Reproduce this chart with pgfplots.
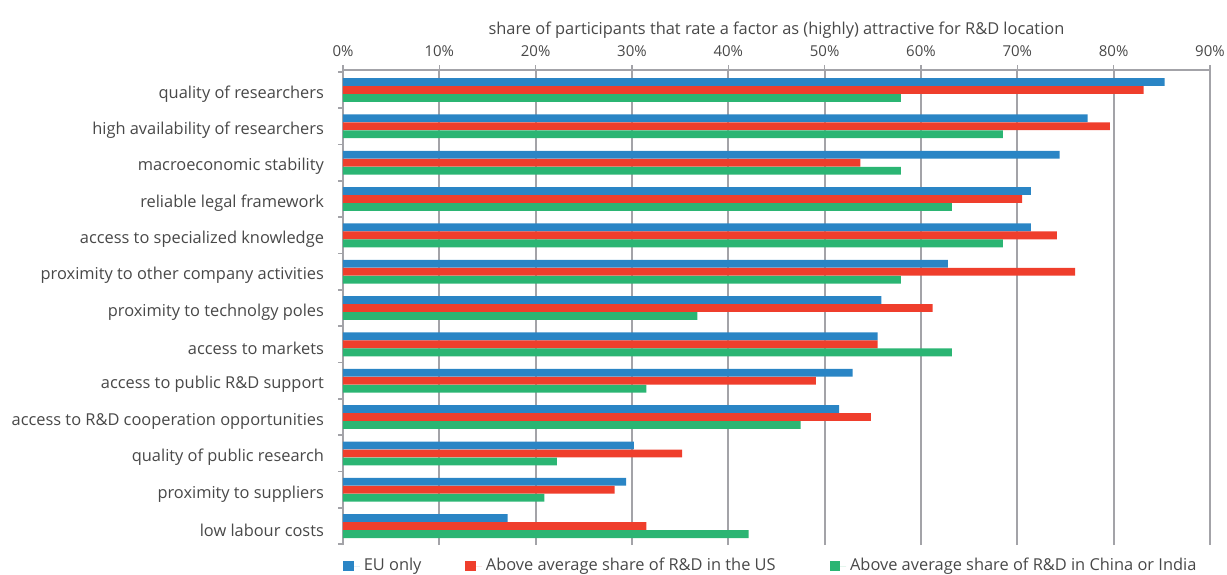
\documentclass[border=0pt]{standalone}
\usepackage{pgfplots}
\pgfplotsset{compat=1.18}
\usepackage{fontspec}
\setmainfont{Open Sans}
\definecolor{cblue}{HTML}{2A85C5}
\definecolor{cred}{HTML}{EF3E2C}
\definecolor{cgreen}{HTML}{2BB573}
\definecolor{cgrid}{HTML}{A3A3A8}
\definecolor{ctext}{HTML}{484848}
\begin{document}
\begin{tikzpicture}[font=\fontsize{8.2}{9.8}\selectfont]
\path[use as bounding box] (-171.5pt,-14.5pt) rectangle (442pt,272.5pt);
\begin{axis}[
  at={(0,0)}, anchor=south west,
  scale only axis, width=433.5pt, height=237.5pt,
  xbar, bar width=3.9pt,
  xmin=0, xmax=90, ymin=-0.52, ymax=12.55,
  axis x line*=top, axis y line*=left,
  axis line style={cgrid, line width=0.9pt},
  every axis plot/.append style={draw=none},
  xtick={0,10,...,90},
  xticklabel={\pgfmathprintnumber{\tick}\%},
  /pgf/number format/assume math mode=true,
  xticklabel style={text=ctext, font=\fontsize{7.5}{9}\selectfont},
  x tick label style={yshift=0.5pt},
  xmajorgrids, grid style={cgrid, line width=0.9pt},
  tick align=outside, major tick length=2.5pt,
  tick style={cgrid, line width=0.8pt},
  ytick={-0.5,0.5,...,12.5}, yticklabels={},
  extra y ticks={0,...,12},
  extra y tick labels={low labour costs, proximity to suppliers, quality of public research, access to R\&D cooperation opportunities, access to public R\&D support, access to markets, proximity to technolgy poles, proximity to other company activities, access to specialized knowledge, reliable legal framework, macroeconomic stability, high availability of researchers, quality of researchers},
  extra y tick style={major tick length=0pt, grid=none, yticklabel style={text=ctext, xshift=-6pt, yshift=-2pt, font=\fontsize{8.2}{9.8}\selectfont}},
  xlabel={share of participants that rate a factor as (highly) attractive for R\&D location},
  xlabel style={text=ctext, yshift=-3pt, font=\fontsize{8.2}{9.8}\selectfont},
  legend columns=3,
  legend cell align=left,
  legend style={draw=none, fill=none, at={(axis description cs:0,0)}, anchor=west, yshift=-10.5pt, inner xsep=0pt, inner ysep=0pt, text=ctext, font=\fontsize{8.2}{9.8}\selectfont, /tikz/column 2/.style={column sep=20pt}, /tikz/column 4/.style={column sep=25pt}},
]
\addplot[fill=cblue, bar shift=4pt, legend image code/.code={\fill[cblue] (0pt,-2.6pt) rectangle (5.2pt,2.6pt); \path (5.2pt,0pt) -- (8.2pt,0pt);}] coordinates {
(85.3,12) (77.3,11) (74.4,10) (71.4,9) (71.4,8) (62.8,7) (55.9,6) (55.5,5) (52.9,4) (51.5,3) (30.2,2) (29.4,1) (17.1,0)};
\addplot[fill=cred, bar shift=0pt, legend image code/.code={\fill[cred] (0pt,-2.6pt) rectangle (5.2pt,2.6pt); \path (5.2pt,0pt) -- (8.2pt,0pt);}] coordinates {
(83.1,12) (79.6,11) (53.7,10) (70.5,9) (74.1,8) (76.0,7) (61.2,6) (55.5,5) (49.1,4) (54.8,3) (35.2,2) (28.2,1) (31.5,0)};
\addplot[fill=cgreen, bar shift=-4pt, legend image code/.code={\fill[cgreen] (0pt,-2.6pt) rectangle (5.2pt,2.6pt); \path (5.2pt,0pt) -- (8.2pt,0pt);}] coordinates {
(57.9,12) (68.5,11) (57.9,10) (63.2,9) (68.5,8) (57.9,7) (36.8,6) (63.2,5) (31.5,4) (47.5,3) (22.2,2) (20.9,1) (42.1,0)};
\legend{EU only, Above average share of R\&D in the US, Above average share of R\&D in China or India}
\end{axis}
\end{tikzpicture}
\end{document}
